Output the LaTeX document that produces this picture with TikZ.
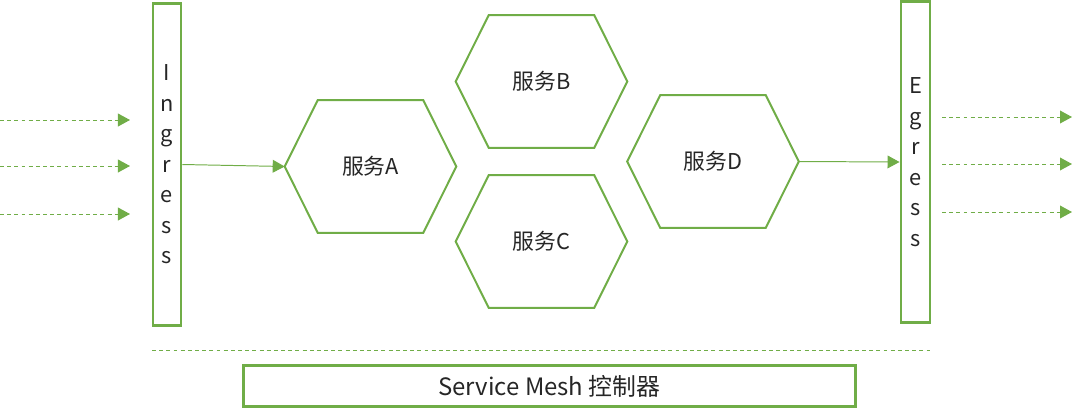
\documentclass[tikz,border=0pt]{standalone}
\usepackage{fontspec}
\setmainfont{Noto Sans CJK SC}
\usetikzlibrary{calc,arrows.meta}
\definecolor{meshgreen}{HTML}{70AD47}
\definecolor{txtgray}{HTML}{262626}

\tikzset{
  hexnode/.style={minimum width=4.275cm, minimum height=3.3cm, inner sep=0pt,
    text=txtgray, font=\fontsize{15.5}{18}\selectfont},
  hexline/.style={draw=meshgreen, line width=1.4pt, line join=miter},
  gatebox/.style={draw=meshgreen, line width=2.1pt, inner sep=0pt, align=center,
    text=txtgray, font=\fontsize{15.5}{21.7}\selectfont},
  flow/.style={meshgreen, line width=0.7pt, -{Triangle[length=0.3cm,width=0.32cm]}},
  extflow/.style={flow, dash pattern=on 2.8pt off 2.3pt}
}

% outline of a hexagon service node
\newcommand{\hexoutline}[1]{%
  \draw[hexline] (#1.west) -- ($(#1.north west)+(33,0)$) -- ($(#1.north east)+(-33,0)$)
    -- (#1.east) -- ($(#1.south east)+(-33,0)$) -- ($(#1.south west)+(33,0)$) -- cycle;}

\begin{document}
\begin{tikzpicture}[x=0.025cm, y=-0.025cm]
    \useasboundingbox (0,0) rectangle (1085,417);

    % Gateways
    \node[gatebox, minimum width=0.7cm, minimum height=8.025cm] (ingress) at (167,164.5)
        {I\\n\\g\\r\\e\\s\\s};
    \node[gatebox, minimum width=0.725cm, minimum height=8cm] (egress) at (915.5,162)
        {E\\g\\r\\e\\s\\s};

    % Services
    \node[hexnode] (svcA) at (370.5,166.5) {服务A};
    \node[hexnode] (svcB) at (541.5,81.5) {服务B};
    \node[hexnode] (svcC) at (541.5,241.5) {服务C};
    \node[hexnode] (svcD) at (713,161.5) {服务D};
    \foreach \s in {svcA,svcB,svcC,svcD}
        \hexoutline{\s};

    % Traffic in and out
    \foreach \y [count=\i] in {120,166,214} {
        \coordinate (inS\i) at (0,\y);
        \coordinate (inE\i) at (130,\y);
        \draw[extflow] (inS\i) -- (inE\i);
    }
    \foreach \y [count=\i] in {117,164,212} {
        \coordinate (outS\i) at (942,\y);
        \coordinate (outE\i) at (1072,\y);
        \draw[extflow] (outS\i) -- (outE\i);
    }
    \draw[flow] (ingress.east) -- (svcA.west);
    \draw[flow] (svcD.east) -- (egress.west);

    % Control plane
    \coordinate (sepL) at (152,350);
    \coordinate (sepR) at (931,350);
    \draw[meshgreen, line width=0.6pt, dash pattern=on 2.8pt off 2.3pt] (sepL) -- (sepR);
    \node[gatebox, minimum width=15.275cm, minimum height=1.025cm, font=\fontsize{17}{20}\selectfont]
        (ctrl) at (549.5,386) {Service Mesh 控制器};
\end{tikzpicture}
\end{document}
